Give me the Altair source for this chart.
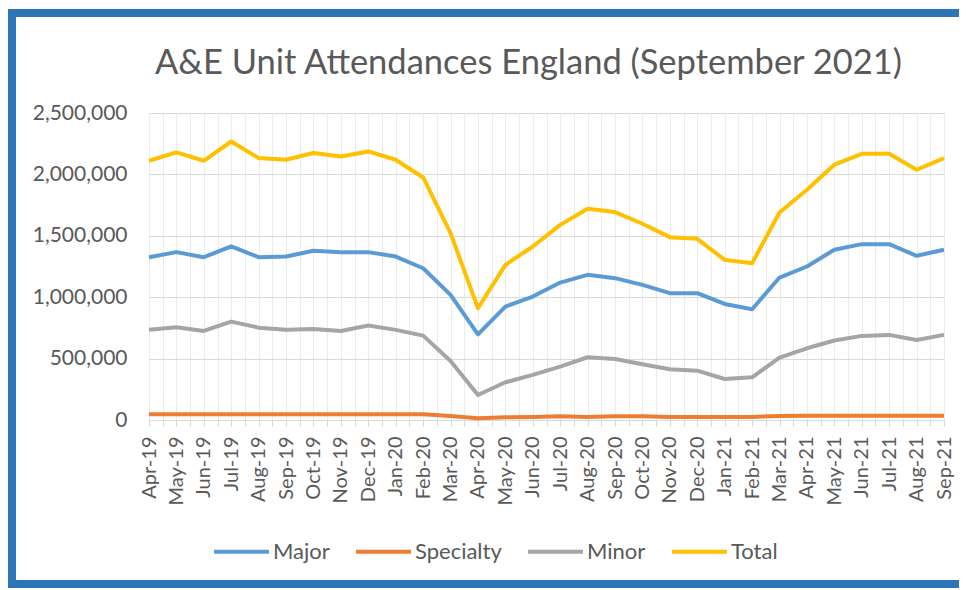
import altair as alt
import pandas as pd

months = ["Apr-19", "May-19", "Jun-19", "Jul-19", "Aug-19", "Sep-19", "Oct-19", "Nov-19", "Dec-19",
          "Jan-20", "Feb-20", "Mar-20", "Apr-20", "May-20", "Jun-20", "Jul-20", "Aug-20", "Sep-20",
          "Oct-20", "Nov-20", "Dec-20", "Jan-21", "Feb-21", "Mar-21", "Apr-21", "May-21", "Jun-21",
          "Jul-21", "Aug-21", "Sep-21"]

major = [1326000, 1367000, 1326000, 1413000, 1326000, 1331000, 1378000, 1367000, 1367000,
         1331000, 1236000, 1019000, 698000, 924000, 1005000, 1119000, 1182000, 1155000,
         1100000, 1033000, 1033000, 945000, 902000, 1160000, 1250000, 1386000, 1432000,
         1432000, 1337000, 1386000]

specialty = [46000, 46000, 46000, 46000, 46000, 46000, 46000, 46000, 46000,
             46000, 46000, 32000, 14000, 22000, 24000, 30000, 25000, 30000,
             30000, 25000, 25000, 25000, 25000, 33000, 35000, 35000, 35000,
             35000, 35000, 35000]

minor = [734000, 755000, 725000, 801000, 752000, 734000, 742000, 725000, 769000,
         734000, 687000, 481000, 204000, 307000, 367000, 435000, 511000, 497000,
         454000, 413000, 402000, 334000, 348000, 508000, 584000, 647000, 685000,
         693000, 652000, 693000]

total = [2111000, 2179000, 2111000, 2268000, 2133000, 2119000, 2174000, 2146000, 2187000,
         2119000, 1975000, 1522000, 910000, 1263000, 1413000, 1589000, 1720000, 1693000,
         1598000, 1489000, 1475000, 1304000, 1277000, 1690000, 1875000, 2079000, 2168000,
         2168000, 2038000, 2133000]

series_names = ["Major", "Specialty", "Minor", "Total"]
series_colors = ["#5B9BD5", "#ED7D31", "#A5A5A5", "#FFC000"]
y_ticks = [0, 500000, 1000000, 1500000, 2000000, 2500000]

rows = []
for name, vals in zip(series_names, [major, specialty, minor, total]):
    for i, v in enumerate(vals):
        rows.append({"idx": i, "month": months[i], "series": name, "value": v})
df = pd.DataFrame(rows)

n = len(months)
grid_values = [i / 2 for i in range(2 * (n - 1) + 1)]
label_array = "[" + ",".join("'" + m + "'" for m in months) + "]"
label_expr = "datum.value % 1 == 0 ? " + label_array + "[datum.value] : ''"

FONT = "Lato"
TXT = "#595959"
FRAME = "#2E75B6"

lines = alt.Chart(df).mark_line(strokeWidth=4, strokeJoin="round").encode(
    x=alt.X("idx:Q",
            scale=alt.Scale(domain=[0, n - 1], nice=False, zero=False),
            axis=alt.Axis(values=grid_values, labelExpr=label_expr, labelAngle=-90,
                          labelFontSize=20, labelFont=FONT, labelColor=TXT,
                          labelOverlap=False, labelFlush=False, labelPadding=10,
                          tickSize=6, tickColor="#D9D9D9", grid=True, gridColor="#EBEBEB",
                          domainColor="#D9D9D9", title=None)),
    y=alt.Y("value:Q",
            scale=alt.Scale(domain=[0, 2500000], nice=False),
            axis=alt.Axis(values=y_ticks, format=",d", labelFontSize=21, labelFont=FONT,
                          labelColor=TXT, labelPadding=22, ticks=False, domain=False,
                          grid=True, gridColor="#D9D9D9", title=None)),
    color=alt.Color("series:N",
                    scale=alt.Scale(domain=series_names, range=series_colors),
                    sort=series_names,
                    legend=alt.Legend(orient="none", legendX=63, legendY=409, direction="horizontal",
                                      title=None, symbolType="stroke", symbolSize=3025,
                                      symbolStrokeWidth=4, labelFontSize=22, labelFont=FONT,
                                      labelColor=TXT, labelOffset=2, columnPadding=18)),
    detail="series:N",
)

one = pd.DataFrame({"a": [0]})
frame_top = alt.Chart(one).mark_rule(stroke=FRAME, strokeWidth=8).encode(
    x=alt.value(-141), x2=alt.value(830), y=alt.value(-100))
frame_left = alt.Chart(one).mark_rule(stroke=FRAME, strokeWidth=8).encode(
    x=alt.value(-137), y=alt.value(-104), y2=alt.value(475))
frame_bottom = alt.Chart(one).mark_rule(stroke=FRAME, strokeWidth=8).encode(
    x=alt.value(-141), x2=alt.value(830), y=alt.value(471))

chart = alt.layer(lines, frame_top, frame_left, frame_bottom).properties(
    width=795, height=307,
    background="white",
    autosize=alt.AutoSizeParams(type="none"),
    padding={"left": 141, "top": 105, "right": 15, "bottom": 170},
    title=alt.TitleParams("A&E Unit Attendances England (September 2021)", anchor="middle",
                          fontSize=34.5, font=FONT, fontWeight="normal", color=TXT,
                          baseline="alphabetic", offset=-103, dx=-18),
).configure_view(stroke=None)

chart.save("out.html", embed_options={"renderer": "svg", "actions": False})
